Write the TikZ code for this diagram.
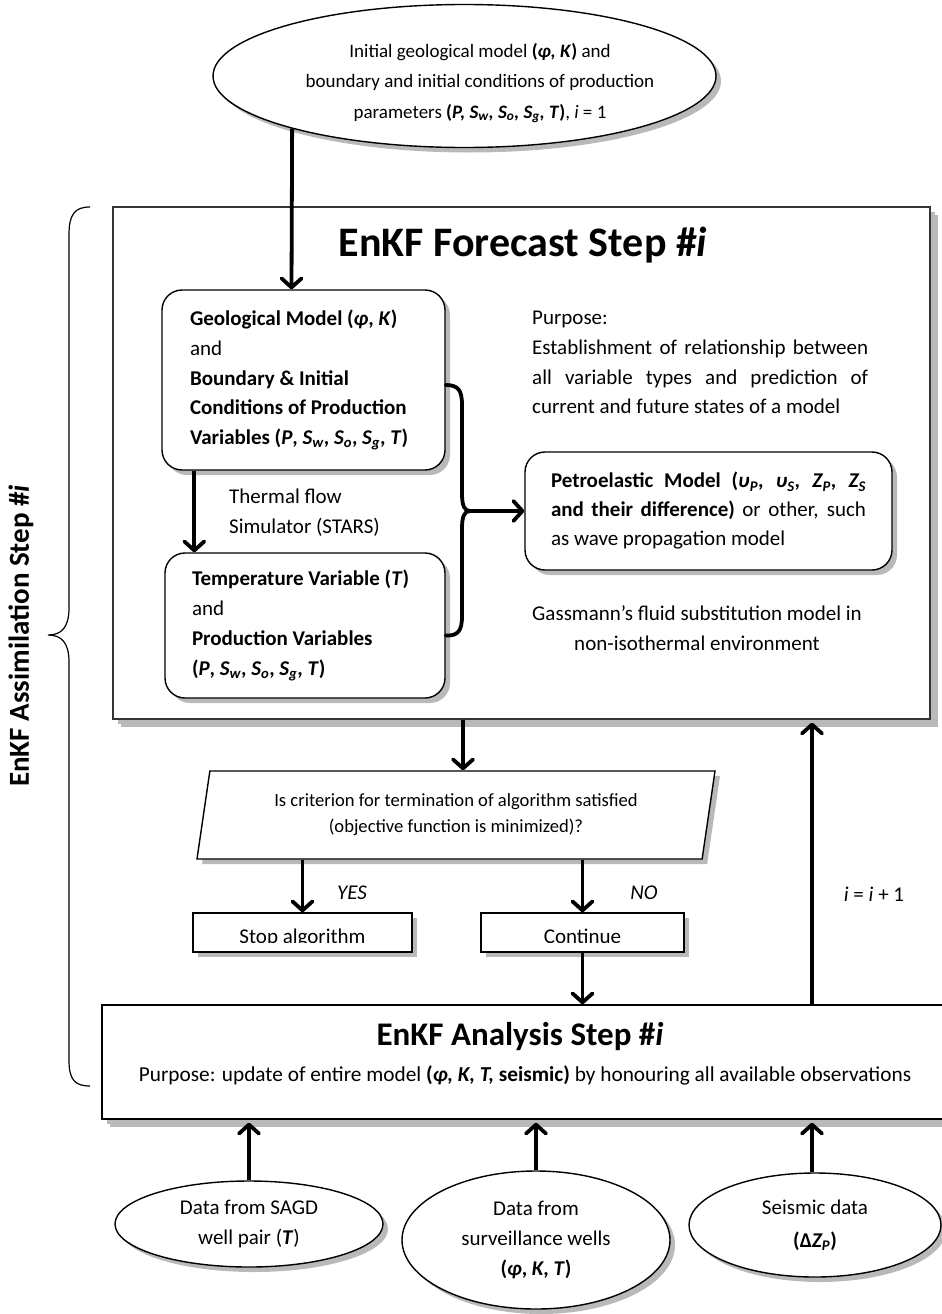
\documentclass[tikz,border=0pt]{standalone}
\usepackage{fontspec}
\setmainfont{Carlito}
\usetikzlibrary{arrows.meta,shapes.geometric,shadows}
\newcommand{\Sb}[2]{\textit{#1\textsubscript{#2}}}
\begin{document}
\begin{tikzpicture}[x=1pt,y=-1pt,
  shad/.style={drop shadow={shadow xshift=#1,shadow yshift=-#1,fill=gray!55,opacity=1}},
  shad/.default=5pt,
  rbox/.style={draw,line width=1.4pt,rounded corners=20pt,fill=white,shad,inner sep=0pt},
  sbox/.style={draw,line width=1.4pt,fill=white,shad,inner sep=0pt},
  oval/.style={ellipse,draw,line width=1.4pt,fill=white,shad,inner sep=0pt,align=center,font=\fontsize{21}{29.5}\selectfont},
  txt/.style={font=\fontsize{21}{29.7}\selectfont,inner sep=0pt},
  arr/.style={line width=3.8pt,-{Straight Barb[length=9pt,width=20pt,round]}},
]
\useasboundingbox (0,0) rectangle (942,1314);

% top ellipse
\node[oval,minimum width=503pt,minimum height=143pt] (init) at (464.5,76) {};
\node[txt,align=center,font=\fontsize{19}{30.5}\selectfont] (initText) at (480,83)
 {Initial geological model \textbf{(\textit{φ, K})} and\\
  boundary and initial conditions of production\\
  parameters \textbf{(\textit{P, S\textsubscript{w}, S\textsubscript{o}, S\textsubscript{g}, T})}, \textit{i} = 1};

% forecast box
\node[sbox,shad=8pt,draw=black!80,line width=1.2pt,minimum width=817pt,minimum height=512pt] (fc) at (521.5,463) {};
\node[txt,font=\bfseries\fontsize{42}{50}\selectfont] (fct) at (523,245) {EnKF Forecast Step \#\textit{i}};

\node[rbox,minimum width=283pt,minimum height=180pt,text width=227pt,align=flush left,font=\fontsize{21}{29.7}\selectfont] (geo) at (303.5,380)
 {\mbox{\textbf{Geological Model (\textit{φ}, \textit{K})}}\\
  and\\
  \mbox{\textbf{Boundary \& Initial}}\\
  \mbox{\textbf{Conditions of Production}}\\
  \mbox{\textbf{Variables (\textit{P}, \Sb{S}{w}, \Sb{S}{o}, \Sb{S}{g}, \textit{T})}}};

\node[rbox,minimum width=280pt,minimum height=145pt,text width=226pt,align=flush left,font=\fontsize{21}{29.7}\selectfont] (temp) at (305,625.5)
 {\mbox{\textbf{Temperature Variable (\textit{T})}}\\
  and\\
  \mbox{\textbf{Production Variables}}\\
  \mbox{\textbf{(\textit{P}, \Sb{S}{w}, \Sb{S}{o}, \Sb{S}{g}, \textit{T})}}};

\node[txt,anchor=west,align=left] (thermal) at (229,513) {Thermal flow\\Simulator (STARS)};

\node[txt,anchor=west,text width=336pt,align=flush left] (purpose) at (532,362.5)
 {Purpose:\\
  \makebox[\linewidth][s]{Establishment of relationship between}\\
  \makebox[\linewidth][s]{all variable types and prediction of}\\
  current and future states of a model};

\node[rbox,minimum width=367pt,minimum height=118pt,text width=315pt,align=flush left,font=\fontsize{21}{29}\selectfont] (petro) at (708.5,511)
 {\makebox[\linewidth][s]{\textbf{Petroelastic Model (\Sb{υ}{P}, \Sb{υ}{S}, \Sb{Z}{P}, \Sb{Z}{S}}}\\
  \makebox[\linewidth][s]{\textbf{and their difference)} or other, such}\\
  as wave propagation model};

\node[txt,align=center,font=\fontsize{21}{30}\selectfont] (gass) at (697,628)
 {Gassmann’s fluid substitution model in\\non-isothermal environment};

\draw[arr] (init.197) -- ([xshift=-12pt]geo.north);
\draw[arr] ([xshift=33pt]geo.south west) -- ([xshift=30pt]temp.north west);
\coordinate (bm) at (470,511);
\draw[line width=3.8pt,line cap=round,line join=round]
  ([yshift=-5pt]geo.east) .. controls (458,385) and (462,390) .. (462,405) -- (462,493)
  .. controls (462,505) and (464,511) .. (bm);
\draw[line width=3.8pt,line cap=round,line join=round]
  ([yshift=-10pt]temp.east) .. controls (458,636) and (462,631) .. (462,616) -- (462,529)
  .. controls (462,517) and (464,511) .. (bm);
\draw[arr] (bm) -- (petro.west);

% decision
\node[trapezium,trapezium left angle=73,trapezium right angle=107,trapezium stretches body,
      draw,line width=1.4pt,fill=white,shad,minimum width=518pt,minimum height=88pt,inner sep=0pt,
      align=center,font=\fontsize{18.6}{26}\selectfont] (dec) at (456,815)
 {Is criterion for termination of algorithm satisfied\\(objective function is minimized)?};
\draw[arr] ([xshift=7pt]dec.north |- fc.south) -- ([xshift=7pt]dec.north);

\node[sbox,minimum width=219pt,minimum height=39pt] (stop) at (302.5,932.5) {};
\node[sbox,minimum width=203pt,minimum height=39pt] (cont) at (582.5,932.5) {};
\begin{scope}
  \clip (stop.north west) rectangle ([yshift=10pt]stop.south east);
  \node[txt,anchor=base] (stoptxt) at ([yshift=-10.5pt]stop.center) {Stop algorithm};
\end{scope}
\begin{scope}
  \clip (cont.north west) rectangle ([yshift=10pt]cont.south east);
  \node[txt,anchor=base] (conttxt) at ([yshift=-10.5pt]cont.center) {Continue};
\end{scope}

\draw[arr] (stop.north |- dec.south) -- (stop.north);
\draw[arr] (cont.north |- dec.south) -- (cont.north);
\node[txt,font=\itshape\fontsize{21}{25}\selectfont] (yes) at (352,893) {YES};
\node[txt,font=\itshape\fontsize{21}{25}\selectfont] (no) at (644,893) {NO};

% analysis box
\node[sbox,shad=8pt,minimum width=850pt,minimum height=114pt] (ana) at (527,1062) {};
\node[txt,font=\bfseries\fontsize{33}{40}\selectfont] (anat) at (520,1037) {EnKF Analysis Step \#\textit{i}};
\node[txt,font=\fontsize{21.3}{24}\selectfont] (anap) at (525,1075)
 {Purpose: update of entire model \textbf{(\textit{φ, K, T,} seismic)} by honouring all available observations};

\draw[arr] (cont.south) -- (cont.south |- ana.north);

% bottom ellipses
\node[oval,minimum width=268pt,minimum height=86pt] (sagd) at (249,1224)
 {Data from SAGD\\well pair (\textbf{\textit{T}})};
\node[oval,minimum width=268pt,minimum height=138pt,font=\fontsize{21}{30}\selectfont] (surv) at (536,1240)
 {Data from\\surveillance wells\\\textbf{(\textit{φ}, \textit{K}, \textit{T})}};
\node[oval,minimum width=252pt,minimum height=104pt,font=\fontsize{21}{33}\selectfont] (seis) at (815,1225)
 {Seismic data\\\textbf{(Δ\textit{Z\textsubscript{P}})}};

\draw[arr] (sagd.north) -- ([yshift=-3pt]sagd.north |- ana.south);
\draw[arr] (surv.north) -- ([yshift=-3pt]surv.north |- ana.south);
\draw[arr] ([xshift=-3pt]seis.north) -- ([xshift=-3pt,yshift=-3pt]seis.north |- ana.south);
\draw[arr] ([xshift=-3pt]seis.north |- ana.north) -- ([xshift=-3pt,yshift=-3pt]seis.north |- fc.south);
\node[txt] (inc) at (874,894) {\textit{i} = \textit{i} + 1};

% brace
\draw[line width=1.2pt] (90,207) .. controls (75,207) and (69,214) .. (69,235) -- (69,608)
  .. controls (69,628) and (61,635) .. (48,635) .. controls (61,635) and (69,642) .. (69,662)
  -- (69,1060) .. controls (69,1080) and (75,1086) .. (90,1086);
\node[txt,rotate=90,font=\bfseries\fontsize{29}{34}\selectfont] (asm) at (21,636) {EnKF Assimilation Step \#\textit{i}};
\end{tikzpicture}
\end{document}
